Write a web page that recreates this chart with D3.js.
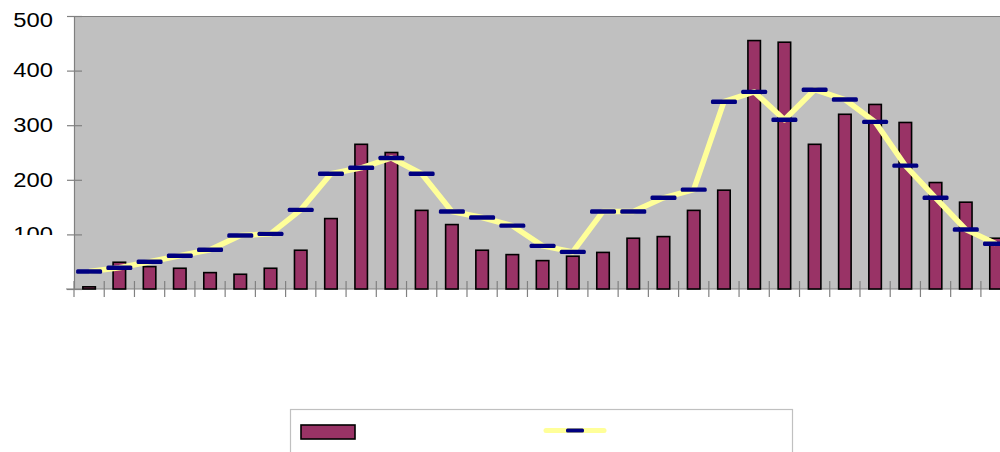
<!DOCTYPE html>
<html>
<head>
<meta charset="utf-8">
<script src="https://cdn.jsdelivr.net/npm/d3@7"></script>
<style>
  html, body { margin: 0; padding: 0; background: #ffffff; }
  svg { display: block; }
</style>
</head>
<body>
<svg id="chart" width="1000" height="452"></svg>
<script>
// Monthly counts (bars) and the running average series (line with dash markers)
const categories = d3.range(1, 32).map(String);
const barValues = [4, 49, 41, 38, 30, 27, 38, 71, 129, 265, 250, 144, 118, 71, 63, 52, 60, 67, 93, 96, 144, 181, 455, 452, 265, 320, 338, 305, 195, 159, 93];
const lineValues = [32, 39, 50, 61, 72, 98, 101, 145, 211, 222, 240, 211, 142, 131, 116, 79, 68, 142, 142, 167, 182, 343, 361, 310, 365, 347, 306, 226, 167, 109, 83];
const yTicks = [0, 100, 200, 300, 400, 500];

const svg = d3.select("#chart");
const plotLeft = 74, plotTop = 16, plotBottom = 289, bandW = 30.23;

const x = d3.scaleBand()
  .domain(categories)
  .range([plotLeft, plotLeft + categories.length * bandW])
  .paddingInner(0).paddingOuter(0);
const y = d3.scaleLinear().domain([0, 500]).range([plotBottom, plotTop]);

// plot area
svg.append("rect")
  .attr("x", plotLeft).attr("y", plotTop)
  .attr("width", 1000 - plotLeft + 20).attr("height", plotBottom - plotTop)
  .attr("fill", "#c0c0c0");
svg.append("line")
  .attr("x1", plotLeft).attr("x2", 1020).attr("y1", plotTop + 0.5).attr("y2", plotTop + 0.5)
  .attr("stroke", "#808080").attr("stroke-width", 1.2);

// y axis: ticks cross the axis line
const yAxis = svg.append("g")
  .attr("transform", `translate(${plotLeft},0)`)
  .call(d3.axisLeft(y).tickValues(yTicks).tickSize(7).tickFormat(""));
yAxis.select(".domain").attr("stroke", "#808080").attr("stroke-width", 1.2);
yAxis.selectAll(".tick line")
  .attr("x1", 8).attr("x2", -7)
  .attr("stroke", "#808080").attr("stroke-width", 1.2);

// y tick labels, clipped just above the category axis
svg.append("clipPath").attr("id", "labelClip")
  .append("rect").attr("x", 0).attr("y", 0).attr("width", 70).attr("height", 235);
svg.append("g").attr("clip-path", "url(#labelClip)")
  .selectAll("text").data(yTicks).join("text")
  .attr("transform", d => `translate(53,${Math.max(y(d), 20)}) scale(1.22,1)`)
  .attr("text-anchor", "end")
  .attr("dy", "0.35em")
  .attr("font-family", "Liberation Sans, Arial, sans-serif")
  .attr("font-size", 19.5)
  .attr("fill", "#000")
  .text(d => d);

// x axis
const xAxis = svg.append("g")
  .attr("transform", `translate(0,${plotBottom})`);
xAxis.append("line")
  .attr("x1", 66).attr("x2", 1020).attr("y1", 0).attr("y2", 0)
  .attr("stroke", "#808080").attr("stroke-width", 1.2);
xAxis.selectAll("line.tk").data(categories).join("line")
  .attr("class", "tk")
  .attr("x1", d => x(d)).attr("x2", d => x(d))
  .attr("y1", -8).attr("y2", 8)
  .attr("stroke", "#808080").attr("stroke-width", 1.2);

// bars
const barW = 12.5;
svg.append("g").selectAll("rect").data(barValues).join("rect")
  .attr("x", (d, i) => x(categories[i]) + x.bandwidth() / 2 - barW / 2)
  .attr("y", d => y(d))
  .attr("width", barW)
  .attr("height", d => plotBottom - y(d))
  .attr("fill", "#993366")
  .attr("stroke", "#000")
  .attr("stroke-width", 1.6);

// average line
const line = d3.line()
  .x((d, i) => x(categories[i]) + x.bandwidth() / 2)
  .y(d => y(d));
svg.append("path")
  .datum(lineValues)
  .attr("d", line)
  .attr("fill", "none")
  .attr("stroke", "#ffff99")
  .attr("stroke-width", 5.5)
  .attr("stroke-linejoin", "round");

// dash markers
const markW = 26;
svg.append("g").selectAll("rect").data(lineValues).join("rect")
  .attr("x", (d, i) => x(categories[i]) + x.bandwidth() / 2 - markW / 2)
  .attr("y", d => y(d) - 2.2)
  .attr("width", markW).attr("height", 4.4)
  .attr("rx", 1.5)
  .attr("fill", "#000080");

// legend
const legend = svg.append("g");
legend.append("rect")
  .attr("x", 290.5).attr("y", 409.5).attr("width", 502).attr("height", 60)
  .attr("fill", "#ffffff").attr("stroke", "#c0c0c0").attr("stroke-width", 1.2);
legend.append("rect")
  .attr("x", 301).attr("y", 425).attr("width", 54).attr("height", 14)
  .attr("fill", "#993366").attr("stroke", "#000").attr("stroke-width", 1.6);
legend.append("line")
  .attr("x1", 546).attr("x2", 604).attr("y1", 430.5).attr("y2", 430.5)
  .attr("stroke", "#ffff99").attr("stroke-width", 5).attr("stroke-linecap", "round");
legend.append("rect")
  .attr("x", 566).attr("y", 428.5).attr("width", 18).attr("height", 4)
  .attr("rx", 1.5).attr("fill", "#000080");
</script>
</body>
</html>
